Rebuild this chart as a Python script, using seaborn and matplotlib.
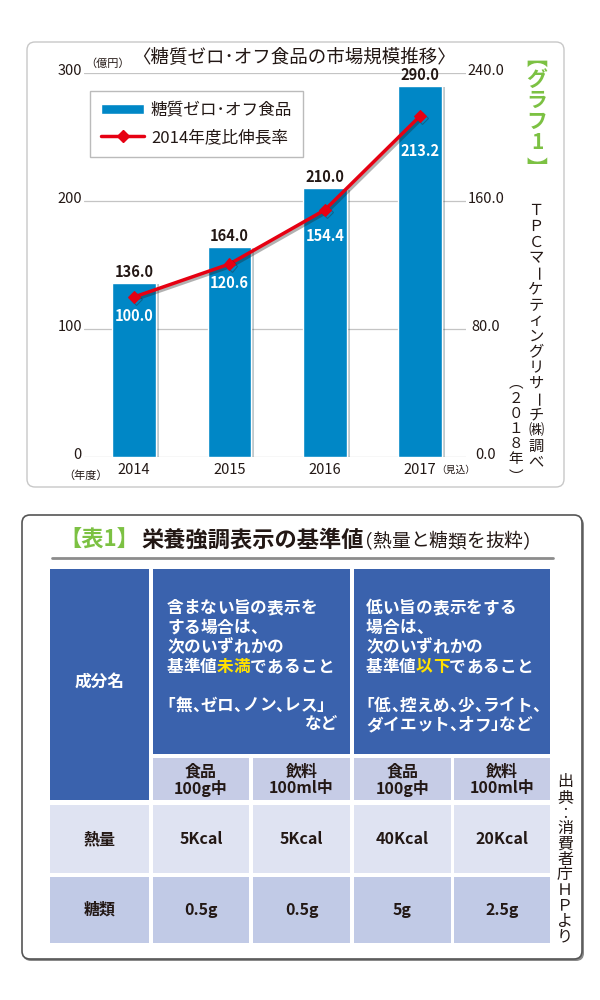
import matplotlib
matplotlib.use("Agg")
import matplotlib.pyplot as plt
import matplotlib.patheffects as pe
from matplotlib.patches import FancyBboxPatch, Rectangle, Patch
from matplotlib.lines import Line2D
from matplotlib.transforms import ScaledTranslation
import numpy as np
import pandas as pd
import seaborn as sns

# ---------------- data ----------------
years = ["2014", "2015", "2016", "2017"]
market_size = [136.0, 164.0, 210.0, 290.0]          # 億円
growth_index = [100.0, 120.6, 154.4, 213.2]         # 2014年度比伸長率
left_ticks = [0, 100, 200, 300]
right_ticks = [0.0, 80.0, 160.0, 240.0]
series_names = ["糖質ゼロ･オフ食品", "2014年度比伸長率"]
chart_title = "〈糖質ゼロ･オフ食品の市場規模推移〉"
unit_label = "（億円）"
year_label = "（年度）"
estimate_label = "（見込）"
graph_tag = "【グラフ1】"
source_chart = "ＴＰＣマーケティングリサーチ㈱調べ"
source_year = "（２０１８年）"

table_tag = "【表1】"
table_title = "栄養強調表示の基準値"
table_subtitle = "（熱量と糖類を抜粋）"
corner_header = "成分名"
group_headers = [
    ["含まない旨の表示を", "する場合は、", "次のいずれかの", "基準値{未満}であること", "",
     "「無、ゼロ、ノン、レス」", "など"],
    ["低い旨の表示をする", "場合は、", "次のいずれかの", "基準値{以下}であること", "",
     "「低、控えめ、少、ライト、", "ダイエット、オフ」など"],
]
sub_headers = ["食品\n100g中", "飲料\n100ml中", "食品\n100g中", "飲料\n100ml中"]
row_labels = ["熱量", "糖類"]
row_values = [["5Kcal", "5Kcal", "40Kcal", "20Kcal"],
              ["0.5g", "0.5g", "5g", "2.5g"]]
source_table = "出典：消費者庁ＨＰより"

# ---------------- style ----------------
BAR = "#0087c6"
RED = "#e60012"
DARK = "#231815"
GREEN = "#7cc143"
NAVY = "#3a62ad"
SUB = "#c6cce6"
ROWC = ["#dfe3f2", "#c1cae6"]
YEL = "#ffe100"

sns.set_style("white")
plt.rcParams["font.family"] = ["Noto Sans CJK JP", "DejaVu Sans"]

fig = plt.figure(figsize=(6, 10), dpi=100)
bg = fig.add_axes([0, 0, 1, 1], zorder=0)
bg.set_xlim(0, 600)
bg.set_ylim(1000, 0)
bg.axis("off")

# panels
bg.add_patch(FancyBboxPatch((27, 42), 537, 445, boxstyle="round,pad=0,rounding_size=8",
                            fc="white", ec="#c8c8c8", lw=1.0))
bg.add_patch(FancyBboxPatch((23, 517), 561, 444, boxstyle="round,pad=0,rounding_size=8",
                            fc="#8a8a8a", ec="none"))
bg.add_patch(FancyBboxPatch((22, 515), 560, 444, boxstyle="round,pad=0,rounding_size=8",
                            fc="white", ec="#555555", lw=1.2))

# ---------------- chart ----------------
ax = fig.add_axes([84 / 600, 1 - 457 / 1000, 382 / 600, 384 / 1000], zorder=2)
ax.patch.set_alpha(0)
df = pd.DataFrame({"year": years, "size": market_size, "growth": growth_index})
sns.barplot(data=df, x="year", y="size", color=BAR, saturation=1, width=0.46, ax=ax, zorder=2)
for p in ax.patches:
    p.set_path_effects([pe.SimplePatchShadow(offset=(2, -1), alpha=0.25), pe.Normal()])

ax2 = ax.twinx()
ax2.set_zorder(3)
ax2.patch.set_visible(False)
sns.lineplot(data=df, x="year", y="growth", ax=ax2, color=RED, lw=2.5, marker="D",
             markersize=6, markeredgecolor=RED, sort=False,
             path_effects=[pe.SimpleLineShadow(offset=(1.5, -1.5), shadow_color="#222222", alpha=0.35),
                           pe.Normal()])

ax.set_ylim(0, 300)
ax2.set_ylim(0, 240)
ax.set_xlim(-0.525, 3.48)
ax.set_yticks(left_ticks)
ax.set_yticklabels([str(v) for v in left_ticks])
ax2.set_yticks(right_ticks)
ax2.set_yticklabels([f"{v:.1f}" for v in right_ticks])
for a in (ax, ax2):
    a.set_xlabel("")
    a.set_ylabel("")
    for s in a.spines.values():
        s.set_visible(False)
ax.yaxis.grid(True, color="#c4c4c4", lw=0.9)
ax.xaxis.grid(False)
ax.set_axisbelow(True)
ax.tick_params(axis="y", length=0, pad=1.5, labelsize=10.5, labelcolor=DARK)
ax.tick_params(axis="x", length=0, pad=4, labelsize=10.5, labelcolor=DARK)
ax2.tick_params(axis="y", length=0, pad=14.4, labelsize=10.5, labelcolor=DARK)
up = ScaledTranslation(0, 4 / 100, fig.dpi_scale_trans)
for t in ax.get_yticklabels():
    t.set_transform(t.get_transform() + up)
for t in ax2.get_yticklabels():
    t.set_transform(t.get_transform() + up)
    t.set_ha("center")

ax.bar_label(ax.containers[0], labels=[f"{v:.1f}" for v in market_size], padding=2,
             fontsize=10.5, fontweight="bold", color=DARK)
line_offsets = [19, 19, 26, 35]
for yr, v, off in zip(years, growth_index, line_offsets):
    ax2.annotate(f"{v:.1f}", xy=(yr, v), xytext=(0, -off * 0.72), textcoords="offset points",
                 ha="center", va="center", fontsize=10.5, fontweight="bold", color="white")

handles = [Patch(facecolor=BAR), Line2D([], [], color=RED, lw=2.5, marker="D", ms=6)]
leg = ax2.legend(handles, series_names, loc="upper left", bbox_to_anchor=(90 / 600, 1 - 91 / 1000),
                 bbox_transform=fig.transFigure, frameon=True, fancybox=False, edgecolor="#aaaaaa",
                 fontsize=12, handlelength=2.6, handleheight=0.55, handletextpad=0.4,
                 borderpad=0.65, labelspacing=0.6, borderaxespad=0)
leg.get_frame().set_linewidth(1.0)
for t in leg.get_texts():
    t.set_color(DARK)

bg.text(294, 58, chart_title, ha="center", va="center", fontsize=13.3, color=DARK)
bg.text(85, 64, unit_label, ha="left", va="center", fontsize=8, color=DARK)
bg.text(63, 476, year_label, ha="left", va="center", fontsize=8, color=DARK)
bg.text(436, 470, estimate_label, ha="left", va="center", fontsize=7, color=DARK)

OPEN = "「（【〈"
CLOSE = "、」）】〉。"
# vertical presentation forms and the ink offset (in em) to recentre them
VFORM = {"【": ("︻", -0.22), "】": ("︼", 0.42), "（": ("︵", -0.25), "）": ("︶", 0.41),
         "：": ("︰", 0.1)}


def vtext(x, y0, step, s, size, **kw):
    e = size * 100 / 72
    y = y0
    for ch in s:
        if ch in VFORM:
            glyph, shift = VFORM[ch]
            adv = step * 0.62 if ch != "：" else step
            bg.text(x, y + adv / 2 + shift * e, glyph, ha="center", va="center", fontsize=size, **kw)
        else:
            adv = step
            rot = -90 if ch == "ー" else 0
            bg.text(x, y + adv / 2, ch, ha="center", va="center", rotation=rot, fontsize=size, **kw)
        y += adv


def hrun(x, yc, segments, size, **kw):
    e = size * 100 / 72
    base = yc + 0.37 * e
    for txt, col in segments:
        for ch in txt:
            if ch in OPEN:
                bg.text(x - 0.5 * e, base, ch, ha="left", va="baseline", fontsize=size, color=col, **kw)
                x += 0.5 * e
            elif ch in CLOSE:
                bg.text(x, base, ch, ha="left", va="baseline", fontsize=size, color=col, **kw)
                x += 0.5 * e
            else:
                bg.text(x, base, ch, ha="left", va="baseline", fontsize=size, color=col, **kw)
                x += e
    return x


vtext(537, 56, 21, graph_tag, 15, fontweight="bold", color=GREEN)
vtext(536, 203, 15.7, source_chart, 11, color=DARK)
vtext(516, 382, 15, source_year, 10.5, color=DARK)

# ---------------- table ----------------
bg.text(59, 540, table_tag, ha="left", va="center", fontsize=16, fontweight="bold", color=GREEN)
bg.text(141, 540, table_title, ha="left", va="center", fontsize=16, fontweight="bold", color=DARK)
hrun(363, 540, [(table_subtitle, DARK)], 13.5)
bg.plot([52, 553], [558, 558], color="#8c8c8c", lw=2)

cols = [(50, 149), (153, 249), (253, 350), (354, 451), (454, 550)]
h1 = (569, 754)
h2 = (758, 800)
rows = [(805, 873), (877, 943)]


def rect(x0, x1, y0, y1, c):
    bg.add_patch(Rectangle((x0, y0), x1 - x0, y1 - y0, fc=c, ec="none"))


rect(cols[0][0], cols[0][1], h1[0], h2[1], NAVY)
bg.text((cols[0][0] + cols[0][1]) / 2, 682, corner_header, ha="center", va="center",
        fontsize=12, fontweight="bold", color="white")

group_x = [167, 366]
group_right = [338, 540]
for g, lines in enumerate(group_headers):
    x0 = cols[1 + 2 * g][0]
    x1 = cols[2 + 2 * g][1]
    rect(x0, x1, h1[0], h1[1], NAVY)
    for k, line in enumerate(lines):
        y = 607 + k * 19.5
        if not line:
            continue
        if g == 0 and k == len(lines) - 1:
            bg.text(group_right[g], y, line, ha="right", va="center", fontsize=12,
                    fontweight="bold", color="white")
            continue
        if "{" in line:
            pre, rest = line.split("{")
            hl, post = rest.split("}")
            segs = [(pre, "white"), (hl, YEL), (post, "white")]
        else:
            segs = [(line, "white")]
        hrun(group_x[g], y, segs, 12, fontweight="bold")

for j, sh in enumerate(sub_headers):
    x0, x1 = cols[j + 1]
    rect(x0, x1, h2[0], h2[1], SUB)
    bg.text((x0 + x1) / 2, (h2[0] + h2[1]) / 2 + 1, sh, ha="center", va="center", fontsize=11.5,
            fontweight="bold", color=DARK, linespacing=1.05)

for r, (lab, vals) in enumerate(zip(row_labels, row_values)):
    y0, y1 = rows[r]
    rect(cols[0][0], cols[0][1], y0, y1, ROWC[r])
    bg.text((cols[0][0] + cols[0][1]) / 2, (y0 + y1) / 2, lab, ha="center", va="center",
            fontsize=11.5, fontweight="bold", color=DARK)
    for j, v in enumerate(vals):
        x0, x1 = cols[j + 1]
        rect(x0, x1, y0, y1, ROWC[r])
        bg.text((x0 + x1) / 2, (y0 + y1) / 2, v, ha="center", va="center", fontsize=11.5,
                fontweight="bold", color=DARK)

vtext(565, 774, 15.5, source_table, 11.5, color=DARK)

fig.savefig("out.png", dpi=100)
